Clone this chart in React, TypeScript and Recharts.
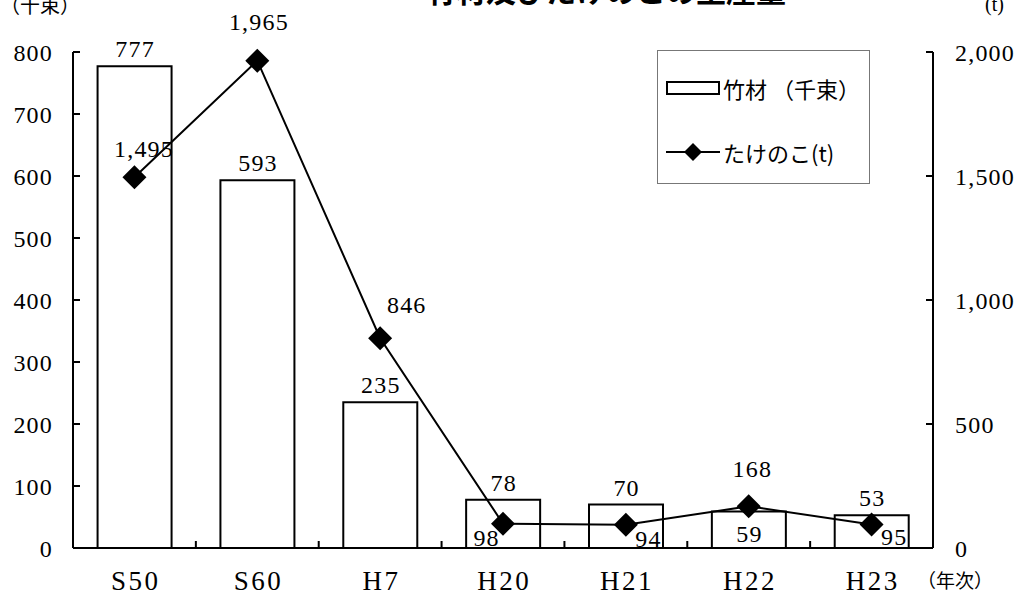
import React from "react";
import {
  ComposedChart,
  Bar,
  Line,
  XAxis,
  YAxis,
  LabelList,
} from "recharts";

const CATEGORIES = ["S50", "S60", "H7", "H20", "H21", "H22", "H23"];
const TAKEZAI = [777, 593, 235, 78, 70, 59, 53]; // 千束
const TAKENOKO = [1495, 1965, 846, 98, 94, 168, 95]; // t
const LEFT_TICKS = [0, 100, 200, 300, 400, 500, 600, 700, 800];
const RIGHT_TICKS = [0, 500, 1000, 1500, 2000];

// label placement (style only)
const BAR_LABEL_INSIDE = [false, false, false, false, false, true, false];
const LINE_LABEL_SHIFT = [
  [9, -28],
  [1, -39],
  [26, -33],
  [-17, 14],
  [22, 14],
  [3, -37],
  [22, 13],
];

const NUM_FONT = "'Liberation Serif', 'Noto Sans CJK JP', serif";
const JP_FONT = "'Noto Sans CJK JP', sans-serif";
const FS = 24;

const fmt = (v: number) => v.toLocaleString("en-US");

const chartData = CATEGORIES.map((c, i) => ({
  name: c,
  takezai: TAKEZAI[i],
  takenoko: TAKENOKO[i],
}));

const NumText = ({ x, y, children, spacing = 1.2, size = FS }: any) => (
  <text
    x={x + spacing / 2}
    y={y}
    textAnchor="middle"
    dominantBaseline="central"
    fontSize={size}
    fontFamily={NUM_FONT}
    letterSpacing={spacing}
    fill="#000"
  >
    {children}
  </text>
);

const BarLabel = (props: any) => {
  const { x, y, width, height, value, index } = props;
  const cx = x + width / 2;
  const cy = BAR_LABEL_INSIDE[index] ? y + height * 0.62 : y - 17;
  return <NumText x={cx} y={cy}>{fmt(value)}</NumText>;
};

const LineLabel = (props: any) => {
  const { x, y, value, index } = props;
  const [dx, dy] = LINE_LABEL_SHIFT[index];
  return <NumText x={x + dx} y={y + dy}>{fmt(value)}</NumText>;
};

const Diamond = (props: any) => {
  const { cx, cy, index } = props;
  const r = 12;
  return (
    <polygon
      key={`d-${index}`}
      points={`${cx},${cy - r} ${cx + r},${cy} ${cx},${cy + r} ${cx - r},${cy}`}
      fill="#000"
    />
  );
};

// x-axis tick: label at the centre, short inward tick at the category boundary
const XTick = (props: any) => {
  const { x, y, payload, index, visibleTicksCount, width } = props;
  const band = width / visibleTicksCount;
  const axisY = y - 22;
  return (
    <g>
      <NumText x={x} y={y + 11} spacing={2.5} size={27}>{payload.value}</NumText>
      {index < visibleTicksCount - 1 && (
        <line x1={x + band / 2} x2={x + band / 2} y1={axisY} y2={axisY - 7} stroke="#000" strokeWidth={2} />
      )}
    </g>
  );
};

const LegendBox = () => (
  <div
    style={{
      position: "absolute",
      left: 657,
      top: 50,
      width: 213,
      height: 134,
      border: "1px solid #777",
      background: "#fff",
      boxSizing: "border-box",
      fontFamily: JP_FONT,
      fontSize: 22,
      color: "#000",
    }}
  >
    <div style={{ position: "absolute", left: 8, top: 26, display: "flex", alignItems: "center", whiteSpace: "nowrap" }}>
      <div style={{ width: 50, height: 10, border: "2px solid #000", background: "#fff" }} />
      <span style={{ marginLeft: 3, lineHeight: 1 }}>竹材 （千束）</span>
    </div>
    <div style={{ position: "absolute", left: 8, top: 89, display: "flex", alignItems: "center", whiteSpace: "nowrap" }}>
      <svg width={54} height={24}>
        <line x1={0} x2={54} y1={12} y2={12} stroke="#000" strokeWidth={2} />
        <polygon points="27,3 36,12 27,21 18,12" fill="#000" />
      </svg>
      <span style={{ marginLeft: 3, lineHeight: 1 }}>たけのこ(t)</span>
    </div>
  </div>
);

export default function App() {
  return (
    <div style={{ position: "absolute", left: 0, top: 0, width: 1020, height: 596, overflow: "hidden", background: "#fff" }}>
      <ComposedChart
        width={1020}
        height={596}
        data={chartData}
        margin={{ top: 52, right: 0, bottom: 0, left: 0 }}
        barCategoryGap="20%"
      >
        <XAxis
          dataKey="name"
          height={48}
          axisLine={{ stroke: "#000", strokeWidth: 2 }}
          tickLine={false}
          tickSize={0}
          tickMargin={22}
          tick={<XTick />}
          interval={0}
        />
        <YAxis
          yAxisId="left"
          orientation="left"
          width={73}
          domain={[0, 800]}
          ticks={LEFT_TICKS}
          axisLine={{ stroke: "#000", strokeWidth: 2 }}
          tickLine={{ stroke: "#000", strokeWidth: 2 }}
          tickSize={-7}
          tickMargin={27}
          tick={{ fill: "#000", fontSize: FS, fontFamily: NUM_FONT, letterSpacing: 1.2 }}
          interval={0}
        />
        <YAxis
          yAxisId="right"
          orientation="right"
          width={87}
          domain={[0, 2000]}
          ticks={RIGHT_TICKS}
          tickFormatter={fmt}
          axisLine={{ stroke: "#000", strokeWidth: 2 }}
          tickLine={{ stroke: "#000", strokeWidth: 2 }}
          tickSize={-7}
          tickMargin={29}
          tick={{ fill: "#000", fontSize: FS, fontFamily: NUM_FONT, letterSpacing: 1.2 }}
          interval={0}
        />
        <Bar
          yAxisId="left"
          dataKey="takezai"
          name="竹材 （千束）"
          fill="#fff"
          stroke="#000"
          strokeWidth={2}
          isAnimationActive={false}
        >
          <LabelList dataKey="takezai" content={<BarLabel />} />
        </Bar>
        <Line
          yAxisId="right"
          dataKey="takenoko"
          name="たけのこ(t)"
          stroke="#000"
          strokeWidth={2}
          dot={<Diamond />}
          activeDot={false}
          isAnimationActive={false}
        >
          <LabelList dataKey="takenoko" content={<LineLabel />} />
        </Line>
      </ComposedChart>
      <LegendBox />
      <div
        style={{
          position: "absolute",
          left: 0,
          width: 1212,
          top: -26,
          textAlign: "center",
          fontFamily: JP_FONT,
          fontWeight: 700,
          fontSize: 30,
          lineHeight: 1,
          whiteSpace: "nowrap",
        }}
      >
        竹材及びたけのこの生産量
      </div>
      <div style={{ position: "absolute", left: 0, top: -5, fontFamily: JP_FONT, fontSize: 20, lineHeight: 1, whiteSpace: "nowrap" }}>
        （千束）
      </div>
      <div style={{ position: "absolute", left: 985, top: -6, fontFamily: NUM_FONT, fontSize: 20, lineHeight: 1, whiteSpace: "nowrap" }}>
        (t)
      </div>
      <div style={{ position: "absolute", left: 917, top: 570, fontFamily: JP_FONT, fontSize: 19, lineHeight: 1, whiteSpace: "nowrap" }}>
        （年次）
      </div>
    </div>
  );
}
